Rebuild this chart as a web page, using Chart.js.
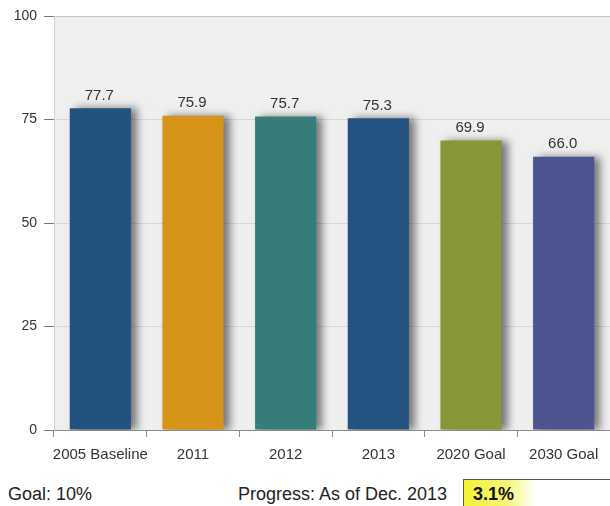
<!DOCTYPE html>
<html>
<head>
<meta charset="utf-8">
<script src="https://cdn.jsdelivr.net/npm/chart.js@4.4.1/dist/chart.umd.min.js"></script>
<style>
  body { margin: 0; background: #fff; font-family: Arial, "Liberation Sans", sans-serif; }
  #wrap { position: relative; width: 610px; height: 506px; overflow: hidden; }
  #chart { position: absolute; left: 0; top: 0; }
  .foot { position: absolute; font-size: 18px; color: #222; top: 484px; }
  #progBox { position: absolute; left: 463px; top: 479px; width: 160px; height: 30px;
    border: 1px solid #555; background: linear-gradient(to right, #f2f236 0px, #f5f575 42px, #fff 72px); }
  #progBox span { position: absolute; left: 9px; top: 4px; font-weight: bold; font-size: 18px; color: #111; }
</style>
</head>
<body>
<div id="wrap">
  <canvas id="chart" width="610" height="470"></canvas>
  <div class="foot" style="left:8px">Goal: 10%</div>
  <div class="foot" style="left:238px">Progress: As of Dec. 2013</div>
  <div id="progBox"><span>3.1%</span></div>
</div>
<script>
// categories and values
const labels = ['2005 Baseline', '2011', '2012', '2013', '2020 Goal', '2030 Goal'];
const values = [77.7, 75.9, 75.7, 75.3, 69.9, 66.0];
const barColors = ['#24527f', '#d59418', '#367c78', '#245281', '#879637', '#4d5490'];
const yTicks = [0, 25, 50, 75, 100];

const FONT = 'Arial, "Liberation Sans", sans-serif';

// gray plot background
const plotBg = {
  id: 'plotBg',
  beforeDraw(chart) {
    const { ctx, chartArea: a } = chart;
    ctx.save();
    ctx.fillStyle = '#efefef';
    ctx.fillRect(a.left, a.top, a.right - a.left, a.bottom - a.top);
    ctx.restore();
  }
};

// soft drop shadow to the right of each bar
const barShadow = {
  id: 'barShadow',
  beforeDatasetsDraw(chart) {
    const ctx = chart.ctx;
    ctx.save();
    ctx.shadowColor = 'rgba(0,0,0,0.5)';
    ctx.shadowBlur = 8;
    ctx.shadowOffsetX = 6;
    ctx.shadowOffsetY = 0;
  },
  afterDatasetsDraw(chart) {
    chart.ctx.restore();
  }
};

// value labels above bars
const valueLabels = {
  id: 'valueLabels',
  afterDatasetsDraw(chart) {
    const ctx = chart.ctx;
    const meta = chart.getDatasetMeta(0);
    ctx.save();
    ctx.shadowColor = 'transparent';
    ctx.font = '15px ' + FONT;
    ctx.fillStyle = '#333';
    ctx.textAlign = 'center';
    ctx.textBaseline = 'bottom';
    meta.data.forEach((bar, i) => {
      ctx.fillText(values[i].toFixed(1), bar.x - 1, bar.y - 5);
    });
    ctx.restore();
  }
};

new Chart(document.getElementById('chart'), {
  type: 'bar',
  data: {
    labels: labels,
    datasets: [{
      data: values,
      backgroundColor: barColors,
      borderWidth: 0,
      categoryPercentage: 0.66,
      barPercentage: 1.0
    }]
  },
  options: {
    responsive: false,
    animation: false,
    layout: { padding: { top: 16, right: 0, left: 0, bottom: 0 } },
    plugins: {
      legend: { display: false },
      tooltip: { enabled: false }
    },
    scales: {
      x: {
        offset: true,
        grid: {
          display: true,
          drawOnChartArea: false,
          offset: true,
          tickLength: 7,
          tickColor: '#888'
        },
        border: { color: '#8a8a8a', width: 1 },
        ticks: {
          color: '#333',
          font: { family: FONT, size: 15 },
          padding: 9,
          maxRotation: 0,
          autoSkip: false
        },
        afterFit(scale) { scale.height = 40; }
      },
      y: {
        min: 0,
        max: 100,
        afterBuildTicks(scale) { scale.ticks = yTicks.map(v => ({ value: v })); },
        grid: {
          color: (c) => c.tick && c.tick.value === 100 ? '#c4c4c4' : '#d9d9d9',
          tickLength: 10,
          tickColor: '#777'
        },
        border: { color: '#d0d0d0' },
        ticks: {
          color: '#333',
          font: { family: FONT, size: 14 },
          padding: 7
        },
        afterFit(scale) { scale.width = 54; }
      }
    }
  },
  plugins: [plotBg, barShadow, valueLabels]
});
</script>
</body>
</html>
